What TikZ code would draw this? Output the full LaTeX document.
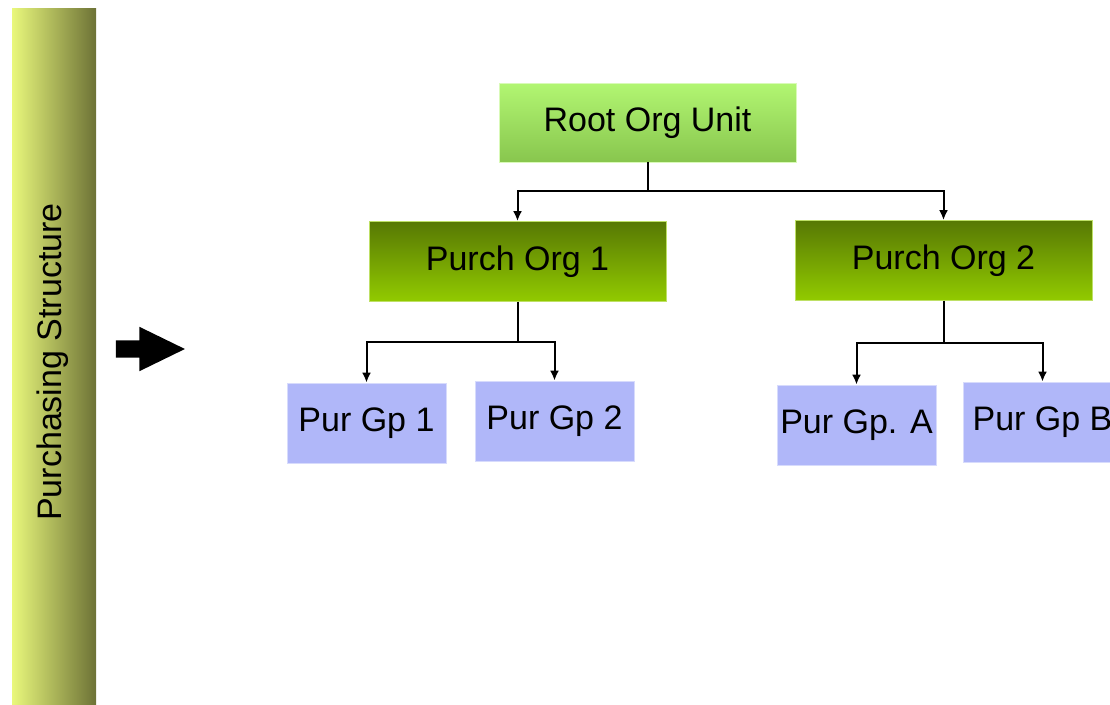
\documentclass[tikz,border=0pt]{standalone}
\usepackage{fontspec}
\setmainfont{Liberation Sans}
\usepackage{tikz}
\usetikzlibrary{arrows.meta,shapes.arrows,positioning}
\definecolor{barlight}{HTML}{E9F87C}
\definecolor{bardark}{HTML}{6D7236}
\definecolor{roottop}{HTML}{B2F672}
\definecolor{rootbottom}{HTML}{88C64E}
\definecolor{orgtop}{HTML}{577804}
\definecolor{orgbottom}{HTML}{92CB00}
\definecolor{groupfill}{HTML}{B0B7F9}

\begin{document}
\begin{tikzpicture}[x=1pt,y=-1pt,
  box/.style={rectangle,inner sep=0pt,font=\fontsize{34}{40}\selectfont},
  rootunit/.style={box,minimum width=297pt,minimum height=79pt,
    top color=roottop,bottom color=rootbottom,draw=roottop!50!white,line width=0.8pt},
  purchorg/.style={box,minimum width=297pt,minimum height=80pt,
    top color=orgtop,bottom color=orgbottom,draw=orgbottom!60!white,line width=0.8pt},
  purgroup/.style={box,minimum width=159pt,minimum height=80pt,
    fill=groupfill,draw=groupfill!50!white,line width=0.8pt},
  link/.style={draw=black,line width=2pt,-{Latex[length=10pt,width=9pt]}}]
\useasboundingbox (0,0) rectangle (1110,704);
\clip (0,0) rectangle (1110,704);

\shade[left color=barlight,right color=bardark] (12,8) rectangle (96,704);
\node[rotate=90,font=\fontsize{34}{40}\selectfont] (bartitle) at (53,362) {Purchasing Structure};

\node[single arrow,fill=black,inner xsep=0pt,inner ysep=8.5pt,minimum height=69pt,
  single arrow head extend=13.5pt,single arrow tip angle=52] (pointer) at (141.5,349) {};

\node[rootunit] (root) at (647.5,122.5) {Root Org Unit};
\node[purchorg] (po1) at (517.5,261.5) {Purch Org 1};
\node[purchorg] (po2) at (943.5,260.5) {Purch Org 2};
\node[purgroup] (pg1) at (366.5,423) {Pur Gp 1};
\node[purgroup] (pg2) at (554.5,421) {Pur Gp 2};
\node[purgroup] (pga) at (856.5,425) {Pur Gp. A};
\node[purgroup] (pgb) at (1042.5,422) {Pur Gp B};

\draw[link] (root.south) -- ++(0,29) -| (po1.north);
\draw[link] (root.south) -- ++(0,29) -| (po2.north);
\draw[link] (po1.south) -- ++(0,40) -| (pg1.north);
\draw[link] (po1.south) -- ++(0,40) -| (pg2.north);
\draw[link] (po2.south) -- ++(0,42) -| (pga.north);
\draw[link] (po2.south) -- ++(0,42) -| (pgb.north);
\end{tikzpicture}
\end{document}
